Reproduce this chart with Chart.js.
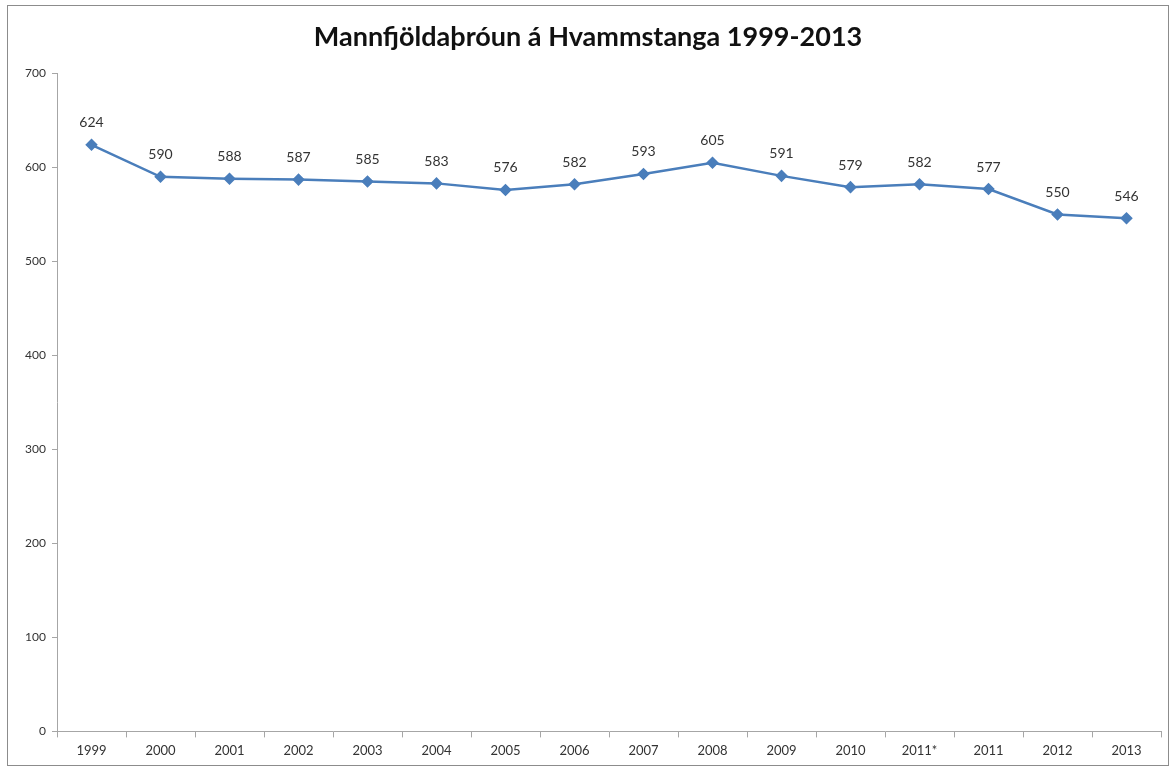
<!DOCTYPE html>
<html>
<head>
<meta charset="utf-8">
<script src="https://cdn.jsdelivr.net/npm/chart.js@4/dist/chart.umd.min.js"></script>
<style>
  html, body { margin: 0; padding: 0; background: #fff; }
  #frame {
    position: absolute; left: 7px; top: 5px; width: 1160px; height: 759px;
    border: 1px solid #8c8c8c; background: #fff;
  }
  #chart-wrap { position: absolute; left: 0; top: 0; width: 1160px; height: 759px; }
</style>
</head>
<body>
<div id="frame"><div id="chart-wrap"><canvas id="chart"></canvas></div></div>
<script>
const chartTitle = "Mannfjöldaþróun á Hvammstanga 1999-2013";
const yearLabels = ["1999", "2000", "2001", "2002", "2003", "2004", "2005", "2006", "2007", "2008", "2009", "2010", "2011*", "2011", "2012", "2013"];
const population = [624, 590, 588, 587, 585, 583, 576, 582, 593, 605, 591, 579, 582, 577, 550, 546];

const lineColor = "#4a7ebb";
const fontFamily = "Lato, 'Open Sans', sans-serif";

// writes the value above every point, like Excel data labels
const pointLabels = {
  id: "pointLabels",
  afterDatasetsDraw(chart) {
    const ctx = chart.ctx;
    const meta = chart.getDatasetMeta(0);
    ctx.save();
    ctx.font = "14px " + fontFamily;
    ctx.fillStyle = "#333";
    ctx.textAlign = "center";
    ctx.textBaseline = "middle";
    meta.data.forEach((pt, i) => {
      ctx.fillText(String(population[i]), pt.x, pt.y - 22);
    });
    ctx.restore();
  },
};

new Chart(document.getElementById("chart"), {
  type: "line",
  data: {
    labels: yearLabels,
    datasets: [{
      data: population,
      borderColor: lineColor,
      backgroundColor: lineColor,
      borderWidth: 2.5,
      pointStyle: "rectRot",
      pointRadius: 4.5,
      pointHoverRadius: 4.5,
      tension: 0,
    }],
  },
  options: {
    responsive: true,
    maintainAspectRatio: false,
    animation: false,
    layout: { padding: { left: 0, right: 0, top: 0, bottom: 0 } },
    plugins: {
      legend: { display: false },
      tooltip: { enabled: false },
      title: {
        display: true,
        text: chartTitle,
        color: "#111",
        font: { family: fontFamily, size: 27, weight: "bold" },
        padding: { top: 15, bottom: 20 },
      },
    },
    scales: {
      x: {
        offset: true,
        grid: { drawOnChartArea: false, offset: true, tickLength: 6, tickColor: "#a6a6a6" },
        border: { display: true, color: "#a6a6a6", width: 1 },
        ticks: { color: "#333", font: { family: fontFamily, size: 13 }, padding: 6, maxRotation: 0, autoSkip: false },
      },
      y: {
        min: 0,
        max: 700,
        afterFit(scale) { scale.width = 49; },
        grid: { drawOnChartArea: false, tickLength: 5, tickColor: "#a6a6a6" },
        border: { display: true, color: "#a6a6a6", width: 1 },
        ticks: { stepSize: 100, color: "#333", font: { family: fontFamily, size: 12 }, padding: 6 },
      },
    },
  },
  plugins: [pointLabels],
});
</script>
</body>
</html>
